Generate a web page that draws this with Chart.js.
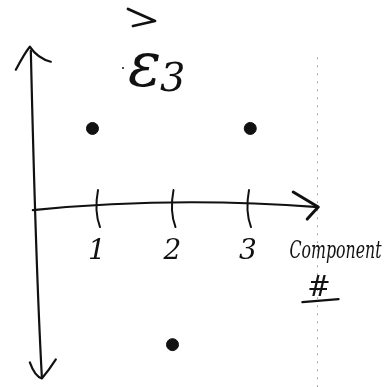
<!DOCTYPE html>
<html>
<head>
<meta charset="utf-8">
<script src="https://cdn.jsdelivr.net/npm/chart.js@4"></script>
<style>
  html, body { margin: 0; padding: 0; background: #fff; }
  #wrap { width: 388px; height: 387px; position: relative; }
</style>
</head>
<body>
<div id="wrap"><canvas id="loadingChart"></canvas></div>
<script>
/* =========================
   Data
========================= */
const componentTicks = [1, 2, 3];
const componentLabels = ["1", "2", "3"];
const pointX = [0.94, 2.0, 3.03];
const pointY = [1.0, -1.75, 1.0];

const axisTitle = "Component";
const axisSubTitle = "#";
const vectorLabel = "ε3";

const ink = "#111";
const handFont = "italic 28px 'DejaVu Serif'";

/* =========================
   Hand-drawn axes
========================= */
const sketchAxes = {
    id: "sketchAxes",
    afterDatasetsDraw(chart) {
        const ctx = chart.ctx;
        const xs = chart.scales.x;
        const ys = chart.scales.y;
        const px = v => xs.getPixelForValue(v);
        const py = v => ys.getPixelForValue(v);

        const y0 = py(0);
        const xLeft = px(0.15);
        const xRight = px(3.93);

        ctx.save();
        ctx.strokeStyle = ink;
        ctx.lineCap = "round";
        ctx.lineJoin = "round";

        // dotted fold line on the right
        ctx.save();
        ctx.strokeStyle = "#9a9a9a";
        ctx.lineWidth = 1;
        ctx.setLineDash([1, 7]);
        ctx.beginPath();
        ctx.moveTo(px(3.92), py(1.9));
        ctx.lineTo(px(3.92), 387);
        ctx.stroke();
        ctx.restore();

        // vertical double arrow
        ctx.lineWidth = 2.2;
        const topY = py(2.04);
        const botY = py(-2.18);
        ctx.beginPath();
        ctx.moveTo(xLeft - 2, topY + 4);
        ctx.quadraticCurveTo(xLeft + 3, y0 + 60, xLeft + 9, botY - 2);
        ctx.stroke();
        ctx.beginPath();
        ctx.moveTo(xLeft - 17, topY + 23);
        ctx.quadraticCurveTo(xLeft - 8, topY + 6, xLeft - 3, topY);
        ctx.quadraticCurveTo(xLeft + 5, topY + 12, xLeft + 18, topY + 15);
        ctx.stroke();
        ctx.beginPath();
        ctx.moveTo(xLeft - 3, botY - 16);
        ctx.quadraticCurveTo(xLeft + 2, botY - 2, xLeft + 9, botY);
        ctx.quadraticCurveTo(xLeft + 16, botY - 8, xLeft + 23, botY - 19);
        ctx.stroke();

        // horizontal arrow, slightly bowed
        ctx.beginPath();
        ctx.moveTo(xLeft, y0 + 3);
        ctx.quadraticCurveTo(px(2), y0 - 11, xRight, y0);
        ctx.stroke();
        ctx.lineWidth = 3;
        ctx.beginPath();
        ctx.moveTo(xRight - 25, y0 - 15);
        ctx.lineTo(xRight, y0);
        ctx.lineTo(xRight - 11, y0 + 12);
        ctx.stroke();

        // tick marks and their labels
        ctx.lineWidth = 2;
        ctx.fillStyle = ink;
        ctx.font = handFont;
        ctx.textAlign = "center";
        ctx.textBaseline = "middle";
        componentTicks.forEach((t, i) => {
            const x = px(t);
            ctx.beginPath();
            ctx.moveTo(x + 1, y0 - 17);
            ctx.quadraticCurveTo(x - 3, y0 + 4, x + 3, y0 + 20);
            ctx.stroke();
            ctx.fillText(componentLabels[i], x, y0 + 45);
        });

        // axis title
        ctx.font = "italic 25px 'DejaVu Serif'";
        ctx.textAlign = "left";
        ctx.fillText(axisTitle, px(3.55), y0 + 44, 92);
        ctx.font = "italic 28px 'DejaVu Serif'";
        ctx.textAlign = "center";
        ctx.fillText(axisSubTitle, px(3.94), y0 + 82);
        ctx.lineWidth = 2.2;
        ctx.beginPath();
        ctx.moveTo(px(3.72), y0 + 95);
        ctx.lineTo(px(4.2), y0 + 92);
        ctx.stroke();

        // vector label above the plot
        ctx.font = "italic 62px 'DejaVu Serif'";
        ctx.textAlign = "left";
        ctx.textBaseline = "alphabetic";
        ctx.fillText(vectorLabel.slice(0, 1), 128, 86);
        ctx.font = "italic 40px 'DejaVu Serif'";
        ctx.fillText(vectorLabel.slice(1), 160, 91);
        ctx.lineWidth = 2.8;
        ctx.beginPath();
        ctx.moveTo(128, 9);
        ctx.lineTo(155, 21);
        ctx.lineTo(133, 26);
        ctx.stroke();
        ctx.beginPath();
        ctx.arc(123, 68, 1, 0, Math.PI * 2);
        ctx.fill();

        ctx.restore();
    }
};

/* =========================
   Chart
========================= */
new Chart(document.getElementById("loadingChart"), {
    type: "scatter",
    data: {
        datasets: [{
            data: pointX.map((x, i) => ({ x: x, y: pointY[i] })),
            backgroundColor: ink,
            borderColor: ink,
            pointRadius: 6,
            pointHoverRadius: 6
        }]
    },
    options: {
        responsive: true,
        maintainAspectRatio: false,
        animation: false,
        events: [],
        layout: {
            padding: { left: 21.5, right: 64.5, top: 42, bottom: 1 }
        },
        plugins: {
            legend: { display: false },
            tooltip: { enabled: false }
        },
        scales: {
            x: { type: "linear", min: 0, max: 4, display: false },
            y: { type: "linear", min: -2.2, max: 2.1, display: false }
        }
    },
    plugins: [sketchAxes]
});
</script>
</body>
</html>
